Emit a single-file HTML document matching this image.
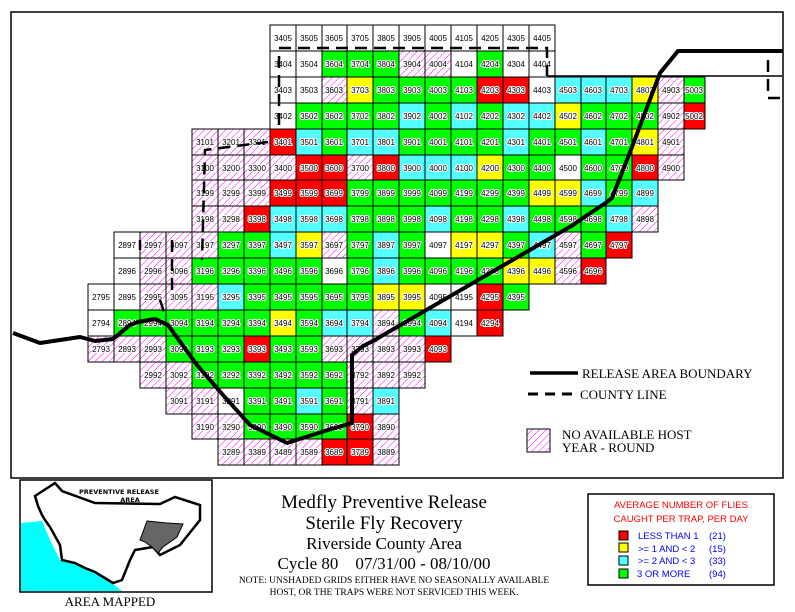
<!DOCTYPE html>
<html><head><meta charset="utf-8"><style>
body{margin:0;background:#fff;width:795px;height:612px;overflow:hidden}
svg{display:block}
.G{fill:#00ff00}.C{fill:#55ffff}.Y{fill:#ffff00}.R{fill:#ff0000}.W{fill:#fff}.H{fill:url(#hatch)}
g.r rect{stroke:#000;stroke-width:1}
g.r text{font-family:"Liberation Sans",sans-serif;font-size:8px;text-anchor:middle;fill:#000;stroke:#fff;stroke-width:2px;paint-order:stroke}
.t{font-family:"Liberation Serif",serif;text-anchor:middle;fill:#000}
</style></head><body>
<svg width="795" height="612" viewBox="0 0 795 612" xmlns="http://www.w3.org/2000/svg">
<defs>
<pattern id="hatch" width="5" height="5" patternUnits="userSpaceOnUse" patternTransform="rotate(45)">
<rect width="5" height="5" fill="#fff"/><line x1="0" y1="0" x2="0" y2="5" stroke="#ff00ff" stroke-width="1"/>
</pattern>
</defs>
<rect x="11" y="12" width="772" height="466" fill="none" stroke="#000" stroke-width="1.5"/>

<g class="r" transform="translate(0,25)">
<rect class="W" x="270" width="26" height="26"/><text x="283" y="16">3405</text>
<rect class="W" x="296" width="26" height="26"/><text x="309" y="16">3505</text>
<rect class="W" x="322" width="25" height="26"/><text x="334" y="16">3605</text>
<rect class="W" x="347" width="26" height="26"/><text x="360" y="16">3705</text>
<rect class="W" x="373" width="26" height="26"/><text x="386" y="16">3805</text>
<rect class="W" x="399" width="26" height="26"/><text x="412" y="16">3905</text>
<rect class="W" x="425" width="26" height="26"/><text x="438" y="16">4005</text>
<rect class="W" x="451" width="26" height="26"/><text x="464" y="16">4105</text>
<rect class="W" x="477" width="26" height="26"/><text x="490" y="16">4205</text>
<rect class="W" x="503" width="26" height="26"/><text x="516" y="16">4305</text>
<rect class="W" x="529" width="26" height="26"/><text x="542" y="16">4405</text>
</g>
<g class="r" transform="translate(0,51)">
<rect class="W" x="270" width="26" height="26"/><text x="283" y="16">3404</text>
<rect class="W" x="296" width="26" height="26"/><text x="309" y="16">3504</text>
<rect class="G" x="322" width="25" height="26"/><text x="334" y="16">3604</text>
<rect class="G" x="347" width="26" height="26"/><text x="360" y="16">3704</text>
<rect class="G" x="373" width="26" height="26"/><text x="386" y="16">3804</text>
<rect class="H" x="399" width="26" height="26"/><text x="412" y="16">3904</text>
<rect class="H" x="425" width="26" height="26"/><text x="438" y="16">4004</text>
<rect class="W" x="451" width="26" height="26"/><text x="464" y="16">4104</text>
<rect class="G" x="477" width="26" height="26"/><text x="490" y="16">4204</text>
<rect class="W" x="503" width="26" height="26"/><text x="516" y="16">4304</text>
<rect class="W" x="529" width="26" height="26"/><text x="542" y="16">4404</text>
</g>
<g class="r" transform="translate(0,77)">
<rect class="W" x="270" width="26" height="26"/><text x="283" y="16">3403</text>
<rect class="W" x="296" width="26" height="26"/><text x="309" y="16">3503</text>
<rect class="H" x="322" width="25" height="26"/><text x="334" y="16">3603</text>
<rect class="Y" x="347" width="26" height="26"/><text x="360" y="16">3703</text>
<rect class="G" x="373" width="26" height="26"/><text x="386" y="16">3803</text>
<rect class="G" x="399" width="26" height="26"/><text x="412" y="16">3903</text>
<rect class="G" x="425" width="26" height="26"/><text x="438" y="16">4003</text>
<rect class="G" x="451" width="26" height="26"/><text x="464" y="16">4103</text>
<rect class="R" x="477" width="26" height="26"/><text x="490" y="16">4203</text>
<rect class="R" x="503" width="26" height="26"/><text x="516" y="16">4303</text>
<rect class="W" x="529" width="26" height="26"/><text x="542" y="16">4403</text>
<rect class="C" x="555" width="26" height="26"/><text x="568" y="16">4503</text>
<rect class="C" x="581" width="25" height="26"/><text x="593" y="16">4603</text>
<rect class="C" x="606" width="26" height="26"/><text x="619" y="16">4703</text>
<rect class="Y" x="632" width="26" height="26"/><text x="645" y="16">4803</text>
<rect class="H" x="658" width="26" height="26"/><text x="671" y="16">4903</text>
<rect class="G" x="684" width="21" height="26"/><text x="694" y="16">5003</text>
</g>
<g class="r" transform="translate(0,103)">
<rect class="W" x="270" width="26" height="26"/><text x="283" y="16">3402</text>
<rect class="G" x="296" width="26" height="26"/><text x="309" y="16">3502</text>
<rect class="G" x="322" width="25" height="26"/><text x="334" y="16">3602</text>
<rect class="G" x="347" width="26" height="26"/><text x="360" y="16">3702</text>
<rect class="G" x="373" width="26" height="26"/><text x="386" y="16">3802</text>
<rect class="C" x="399" width="26" height="26"/><text x="412" y="16">3902</text>
<rect class="G" x="425" width="26" height="26"/><text x="438" y="16">4002</text>
<rect class="C" x="451" width="26" height="26"/><text x="464" y="16">4102</text>
<rect class="G" x="477" width="26" height="26"/><text x="490" y="16">4202</text>
<rect class="C" x="503" width="26" height="26"/><text x="516" y="16">4302</text>
<rect class="C" x="529" width="26" height="26"/><text x="542" y="16">4402</text>
<rect class="Y" x="555" width="26" height="26"/><text x="568" y="16">4502</text>
<rect class="G" x="581" width="25" height="26"/><text x="593" y="16">4602</text>
<rect class="G" x="606" width="26" height="26"/><text x="619" y="16">4702</text>
<rect class="G" x="632" width="26" height="26"/><text x="645" y="16">4802</text>
<rect class="H" x="658" width="26" height="26"/><text x="671" y="16">4902</text>
<rect class="R" x="684" width="21" height="26"/><text x="694" y="16">5002</text>
</g>
<g class="r" transform="translate(0,129)">
<rect class="H" x="192" width="26" height="26"/><text x="205" y="16">3101</text>
<rect class="H" x="218" width="26" height="26"/><text x="231" y="16">3201</text>
<rect class="H" x="244" width="26" height="26"/><text x="257" y="16">3301</text>
<rect class="R" x="270" width="26" height="26"/><text x="283" y="16">3401</text>
<rect class="C" x="296" width="26" height="26"/><text x="309" y="16">3501</text>
<rect class="G" x="322" width="25" height="26"/><text x="334" y="16">3601</text>
<rect class="C" x="347" width="26" height="26"/><text x="360" y="16">3701</text>
<rect class="C" x="373" width="26" height="26"/><text x="386" y="16">3801</text>
<rect class="G" x="399" width="26" height="26"/><text x="412" y="16">3901</text>
<rect class="G" x="425" width="26" height="26"/><text x="438" y="16">4001</text>
<rect class="G" x="451" width="26" height="26"/><text x="464" y="16">4101</text>
<rect class="G" x="477" width="26" height="26"/><text x="490" y="16">4201</text>
<rect class="C" x="503" width="26" height="26"/><text x="516" y="16">4301</text>
<rect class="G" x="529" width="26" height="26"/><text x="542" y="16">4401</text>
<rect class="G" x="555" width="26" height="26"/><text x="568" y="16">4501</text>
<rect class="C" x="581" width="25" height="26"/><text x="593" y="16">4601</text>
<rect class="G" x="606" width="26" height="26"/><text x="619" y="16">4701</text>
<rect class="Y" x="632" width="26" height="26"/><text x="645" y="16">4801</text>
<rect class="H" x="658" width="26" height="26"/><text x="671" y="16">4901</text>
</g>
<g class="r" transform="translate(0,155)">
<rect class="H" x="192" width="26" height="25"/><text x="205" y="16">3100</text>
<rect class="H" x="218" width="26" height="25"/><text x="231" y="16">3200</text>
<rect class="H" x="244" width="26" height="25"/><text x="257" y="16">3300</text>
<rect class="H" x="270" width="26" height="25"/><text x="283" y="16">3400</text>
<rect class="R" x="296" width="26" height="25"/><text x="309" y="16">3500</text>
<rect class="R" x="322" width="25" height="25"/><text x="334" y="16">3600</text>
<rect class="H" x="347" width="26" height="25"/><text x="360" y="16">3700</text>
<rect class="R" x="373" width="26" height="25"/><text x="386" y="16">3800</text>
<rect class="C" x="399" width="26" height="25"/><text x="412" y="16">3900</text>
<rect class="C" x="425" width="26" height="25"/><text x="438" y="16">4000</text>
<rect class="C" x="451" width="26" height="25"/><text x="464" y="16">4100</text>
<rect class="Y" x="477" width="26" height="25"/><text x="490" y="16">4200</text>
<rect class="G" x="503" width="26" height="25"/><text x="516" y="16">4300</text>
<rect class="G" x="529" width="26" height="25"/><text x="542" y="16">4400</text>
<rect class="W" x="555" width="26" height="25"/><text x="568" y="16">4500</text>
<rect class="G" x="581" width="25" height="25"/><text x="593" y="16">4600</text>
<rect class="G" x="606" width="26" height="25"/><text x="619" y="16">4700</text>
<rect class="R" x="632" width="26" height="25"/><text x="645" y="16">4800</text>
<rect class="H" x="658" width="26" height="25"/><text x="671" y="16">4900</text>
</g>
<g class="r" transform="translate(0,180)">
<rect class="H" x="192" width="26" height="26"/><text x="205" y="16">3199</text>
<rect class="H" x="218" width="26" height="26"/><text x="231" y="16">3299</text>
<rect class="H" x="244" width="26" height="26"/><text x="257" y="16">3399</text>
<rect class="R" x="270" width="26" height="26"/><text x="283" y="16">3499</text>
<rect class="R" x="296" width="26" height="26"/><text x="309" y="16">3599</text>
<rect class="R" x="322" width="25" height="26"/><text x="334" y="16">3699</text>
<rect class="G" x="347" width="26" height="26"/><text x="360" y="16">3799</text>
<rect class="G" x="373" width="26" height="26"/><text x="386" y="16">3899</text>
<rect class="G" x="399" width="26" height="26"/><text x="412" y="16">3999</text>
<rect class="G" x="425" width="26" height="26"/><text x="438" y="16">4099</text>
<rect class="G" x="451" width="26" height="26"/><text x="464" y="16">4199</text>
<rect class="G" x="477" width="26" height="26"/><text x="490" y="16">4299</text>
<rect class="G" x="503" width="26" height="26"/><text x="516" y="16">4399</text>
<rect class="Y" x="529" width="26" height="26"/><text x="542" y="16">4499</text>
<rect class="Y" x="555" width="26" height="26"/><text x="568" y="16">4599</text>
<rect class="C" x="581" width="25" height="26"/><text x="593" y="16">4699</text>
<rect class="G" x="606" width="26" height="26"/><text x="619" y="16">4799</text>
<rect class="C" x="632" width="26" height="26"/><text x="645" y="16">4899</text>
</g>
<g class="r" transform="translate(0,206)">
<rect class="H" x="192" width="26" height="26"/><text x="205" y="16">3198</text>
<rect class="H" x="218" width="26" height="26"/><text x="231" y="16">3298</text>
<rect class="R" x="244" width="26" height="26"/><text x="257" y="16">3398</text>
<rect class="C" x="270" width="26" height="26"/><text x="283" y="16">3498</text>
<rect class="C" x="296" width="26" height="26"/><text x="309" y="16">3598</text>
<rect class="C" x="322" width="25" height="26"/><text x="334" y="16">3698</text>
<rect class="G" x="347" width="26" height="26"/><text x="360" y="16">3798</text>
<rect class="G" x="373" width="26" height="26"/><text x="386" y="16">3898</text>
<rect class="G" x="399" width="26" height="26"/><text x="412" y="16">3998</text>
<rect class="C" x="425" width="26" height="26"/><text x="438" y="16">4098</text>
<rect class="G" x="451" width="26" height="26"/><text x="464" y="16">4198</text>
<rect class="G" x="477" width="26" height="26"/><text x="490" y="16">4298</text>
<rect class="C" x="503" width="26" height="26"/><text x="516" y="16">4398</text>
<rect class="G" x="529" width="26" height="26"/><text x="542" y="16">4498</text>
<rect class="G" x="555" width="26" height="26"/><text x="568" y="16">4598</text>
<rect class="G" x="581" width="25" height="26"/><text x="593" y="16">4698</text>
<rect class="C" x="606" width="26" height="26"/><text x="619" y="16">4798</text>
<rect class="H" x="632" width="26" height="26"/><text x="645" y="16">4898</text>
</g>
<g class="r" transform="translate(0,232)">
<rect class="W" x="114" width="26" height="26"/><text x="127" y="16">2897</text>
<rect class="H" x="140" width="26" height="26"/><text x="153" y="16">2997</text>
<rect class="H" x="166" width="26" height="26"/><text x="179" y="16">3097</text>
<rect class="H" x="192" width="26" height="26"/><text x="205" y="16">3197</text>
<rect class="G" x="218" width="26" height="26"/><text x="231" y="16">3297</text>
<rect class="G" x="244" width="26" height="26"/><text x="257" y="16">3397</text>
<rect class="C" x="270" width="26" height="26"/><text x="283" y="16">3497</text>
<rect class="Y" x="296" width="26" height="26"/><text x="309" y="16">3597</text>
<rect class="H" x="322" width="25" height="26"/><text x="334" y="16">3697</text>
<rect class="G" x="347" width="26" height="26"/><text x="360" y="16">3797</text>
<rect class="C" x="373" width="26" height="26"/><text x="386" y="16">3897</text>
<rect class="G" x="399" width="26" height="26"/><text x="412" y="16">3997</text>
<rect class="W" x="425" width="26" height="26"/><text x="438" y="16">4097</text>
<rect class="Y" x="451" width="26" height="26"/><text x="464" y="16">4197</text>
<rect class="Y" x="477" width="26" height="26"/><text x="490" y="16">4297</text>
<rect class="G" x="503" width="26" height="26"/><text x="516" y="16">4397</text>
<rect class="C" x="529" width="26" height="26"/><text x="542" y="16">4497</text>
<rect class="H" x="555" width="26" height="26"/><text x="568" y="16">4597</text>
<rect class="G" x="581" width="25" height="26"/><text x="593" y="16">4697</text>
<rect class="R" x="606" width="26" height="26"/><text x="619" y="16">4797</text>
</g>
<g class="r" transform="translate(0,258)">
<rect class="W" x="114" width="26" height="26"/><text x="127" y="16">2896</text>
<rect class="H" x="140" width="26" height="26"/><text x="153" y="16">2996</text>
<rect class="H" x="166" width="26" height="26"/><text x="179" y="16">3096</text>
<rect class="G" x="192" width="26" height="26"/><text x="205" y="16">3196</text>
<rect class="G" x="218" width="26" height="26"/><text x="231" y="16">3296</text>
<rect class="G" x="244" width="26" height="26"/><text x="257" y="16">3396</text>
<rect class="G" x="270" width="26" height="26"/><text x="283" y="16">3496</text>
<rect class="G" x="296" width="26" height="26"/><text x="309" y="16">3596</text>
<rect class="W" x="322" width="25" height="26"/><text x="334" y="16">3696</text>
<rect class="G" x="347" width="26" height="26"/><text x="360" y="16">3796</text>
<rect class="C" x="373" width="26" height="26"/><text x="386" y="16">3896</text>
<rect class="G" x="399" width="26" height="26"/><text x="412" y="16">3996</text>
<rect class="G" x="425" width="26" height="26"/><text x="438" y="16">4096</text>
<rect class="G" x="451" width="26" height="26"/><text x="464" y="16">4196</text>
<rect class="G" x="477" width="26" height="26"/><text x="490" y="16">4296</text>
<rect class="Y" x="503" width="26" height="26"/><text x="516" y="16">4396</text>
<rect class="Y" x="529" width="26" height="26"/><text x="542" y="16">4496</text>
<rect class="H" x="555" width="26" height="26"/><text x="568" y="16">4596</text>
<rect class="R" x="581" width="25" height="26"/><text x="593" y="16">4696</text>
</g>
<g class="r" transform="translate(0,284)">
<rect class="W" x="88" width="26" height="26"/><text x="101" y="16">2795</text>
<rect class="W" x="114" width="26" height="26"/><text x="127" y="16">2895</text>
<rect class="H" x="140" width="26" height="26"/><text x="153" y="16">2995</text>
<rect class="H" x="166" width="26" height="26"/><text x="179" y="16">3095</text>
<rect class="H" x="192" width="26" height="26"/><text x="205" y="16">3195</text>
<rect class="C" x="218" width="26" height="26"/><text x="231" y="16">3295</text>
<rect class="G" x="244" width="26" height="26"/><text x="257" y="16">3395</text>
<rect class="G" x="270" width="26" height="26"/><text x="283" y="16">3495</text>
<rect class="G" x="296" width="26" height="26"/><text x="309" y="16">3595</text>
<rect class="G" x="322" width="25" height="26"/><text x="334" y="16">3695</text>
<rect class="G" x="347" width="26" height="26"/><text x="360" y="16">3795</text>
<rect class="Y" x="373" width="26" height="26"/><text x="386" y="16">3895</text>
<rect class="Y" x="399" width="26" height="26"/><text x="412" y="16">3995</text>
<rect class="W" x="425" width="26" height="26"/><text x="438" y="16">4095</text>
<rect class="W" x="451" width="26" height="26"/><text x="464" y="16">4195</text>
<rect class="R" x="477" width="26" height="26"/><text x="490" y="16">4295</text>
<rect class="G" x="503" width="26" height="26"/><text x="516" y="16">4395</text>
</g>
<g class="r" transform="translate(0,310)">
<rect class="W" x="88" width="26" height="26"/><text x="101" y="16">2794</text>
<rect class="G" x="114" width="26" height="26"/><text x="127" y="16">2894</text>
<rect class="G" x="140" width="26" height="26"/><text x="153" y="16">2994</text>
<rect class="G" x="166" width="26" height="26"/><text x="179" y="16">3094</text>
<rect class="G" x="192" width="26" height="26"/><text x="205" y="16">3194</text>
<rect class="G" x="218" width="26" height="26"/><text x="231" y="16">3294</text>
<rect class="G" x="244" width="26" height="26"/><text x="257" y="16">3394</text>
<rect class="Y" x="270" width="26" height="26"/><text x="283" y="16">3494</text>
<rect class="G" x="296" width="26" height="26"/><text x="309" y="16">3594</text>
<rect class="C" x="322" width="25" height="26"/><text x="334" y="16">3694</text>
<rect class="C" x="347" width="26" height="26"/><text x="360" y="16">3794</text>
<rect class="H" x="373" width="26" height="26"/><text x="386" y="16">3894</text>
<rect class="G" x="399" width="26" height="26"/><text x="412" y="16">3994</text>
<rect class="C" x="425" width="26" height="26"/><text x="438" y="16">4094</text>
<rect class="W" x="451" width="26" height="26"/><text x="464" y="16">4194</text>
<rect class="R" x="477" width="26" height="26"/><text x="490" y="16">4294</text>
</g>
<g class="r" transform="translate(0,336)">
<rect class="H" x="88" width="26" height="26"/><text x="101" y="16">2793</text>
<rect class="H" x="114" width="26" height="26"/><text x="127" y="16">2893</text>
<rect class="H" x="140" width="26" height="26"/><text x="153" y="16">2993</text>
<rect class="G" x="166" width="26" height="26"/><text x="179" y="16">3093</text>
<rect class="G" x="192" width="26" height="26"/><text x="205" y="16">3193</text>
<rect class="G" x="218" width="26" height="26"/><text x="231" y="16">3293</text>
<rect class="R" x="244" width="26" height="26"/><text x="257" y="16">3393</text>
<rect class="G" x="270" width="26" height="26"/><text x="283" y="16">3493</text>
<rect class="G" x="296" width="26" height="26"/><text x="309" y="16">3593</text>
<rect class="H" x="322" width="25" height="26"/><text x="334" y="16">3693</text>
<rect class="H" x="347" width="26" height="26"/><text x="360" y="16">3793</text>
<rect class="H" x="373" width="26" height="26"/><text x="386" y="16">3893</text>
<rect class="H" x="399" width="26" height="26"/><text x="412" y="16">3993</text>
<rect class="R" x="425" width="26" height="26"/><text x="438" y="16">4093</text>
</g>
<g class="r" transform="translate(0,362)">
<rect class="H" x="140" width="26" height="26"/><text x="153" y="16">2992</text>
<rect class="H" x="166" width="26" height="26"/><text x="179" y="16">3092</text>
<rect class="G" x="192" width="26" height="26"/><text x="205" y="16">3192</text>
<rect class="G" x="218" width="26" height="26"/><text x="231" y="16">3292</text>
<rect class="G" x="244" width="26" height="26"/><text x="257" y="16">3392</text>
<rect class="G" x="270" width="26" height="26"/><text x="283" y="16">3492</text>
<rect class="G" x="296" width="26" height="26"/><text x="309" y="16">3592</text>
<rect class="G" x="322" width="25" height="26"/><text x="334" y="16">3692</text>
<rect class="H" x="347" width="26" height="26"/><text x="360" y="16">3792</text>
<rect class="H" x="373" width="26" height="26"/><text x="386" y="16">3892</text>
<rect class="H" x="399" width="26" height="26"/><text x="412" y="16">3992</text>
</g>
<g class="r" transform="translate(0,388)">
<rect class="H" x="166" width="26" height="26"/><text x="179" y="16">3091</text>
<rect class="H" x="192" width="26" height="26"/><text x="205" y="16">3191</text>
<rect class="W" x="218" width="26" height="26"/><text x="231" y="16">3291</text>
<rect class="G" x="244" width="26" height="26"/><text x="257" y="16">3391</text>
<rect class="G" x="270" width="26" height="26"/><text x="283" y="16">3491</text>
<rect class="C" x="296" width="26" height="26"/><text x="309" y="16">3591</text>
<rect class="G" x="322" width="25" height="26"/><text x="334" y="16">3691</text>
<rect class="H" x="347" width="26" height="26"/><text x="360" y="16">3791</text>
<rect class="C" x="373" width="26" height="26"/><text x="386" y="16">3891</text>
</g>
<g class="r" transform="translate(0,414)">
<rect class="H" x="192" width="26" height="25"/><text x="205" y="16">3190</text>
<rect class="H" x="218" width="26" height="25"/><text x="231" y="16">3290</text>
<rect class="G" x="244" width="26" height="25"/><text x="257" y="16">3390</text>
<rect class="G" x="270" width="26" height="25"/><text x="283" y="16">3490</text>
<rect class="G" x="296" width="26" height="25"/><text x="309" y="16">3590</text>
<rect class="G" x="322" width="25" height="25"/><text x="334" y="16">3690</text>
<rect class="R" x="347" width="26" height="25"/><text x="360" y="16">3790</text>
<rect class="H" x="373" width="26" height="25"/><text x="386" y="16">3890</text>
</g>
<g class="r" transform="translate(0,439)">
<rect class="H" x="218" width="26" height="26"/><text x="231" y="16">3289</text>
<rect class="H" x="244" width="26" height="26"/><text x="257" y="16">3389</text>
<rect class="H" x="270" width="26" height="26"/><text x="283" y="16">3489</text>
<rect class="H" x="296" width="26" height="26"/><text x="309" y="16">3589</text>
<rect class="R" x="322" width="25" height="26"/><text x="334" y="16">3689</text>
<rect class="R" x="347" width="26" height="26"/><text x="360" y="16">3789</text>
<rect class="H" x="373" width="26" height="26"/><text x="386" y="16">3889</text>
</g>

<g fill="none" stroke="#000" stroke-width="2.5" stroke-dasharray="12 7">
<path d="M279,48 L547,48 L547,76"/>
<path d="M279,56 L279,130 M268,142 L205,150 L202,260"/>
<path d="M140,240 L140,250 M172,240 L172,290 M160,300 L165,315"/>
<path d="M768,60 L768,98 L780,98"/>
</g>
<path d="M547,76 L782,76" stroke="#000" stroke-width="1.5"/>
<path d="M13,333 L40,343 L80,337 L95,341 L113,339 L130,325 L138,322 L155,319 L168,325 L197,365 L223,395 L250,425 L287,443 L328,430 L352,423 L352,355 L363,346 L373,341 L573,225 L583,218 L607,202 L612,198 L632,147 L660,73 L678,51 L783,51" fill="none" stroke="#000" stroke-width="4" stroke-linejoin="round"/>

<line x1="530" y1="373" x2="578" y2="373" stroke="#000" stroke-width="3.5"/>
<text x="582" y="378" font-family="Liberation Serif,serif" font-size="13">RELEASE AREA BOUNDARY</text>
<line x1="528" y1="394" x2="578" y2="394" stroke="#000" stroke-width="3" stroke-dasharray="10 7"/>
<text x="580" y="399" font-family="Liberation Serif,serif" font-size="13">COUNTY LINE</text>
<rect x="527" y="429" width="23" height="23" fill="url(#hatch)" stroke="#000"/>
<text x="562" y="439" font-family="Liberation Serif,serif" font-size="13">NO AVAILABLE HOST</text>
<text x="562" y="452" font-family="Liberation Serif,serif" font-size="13">YEAR - ROUND</text>

<rect x="20" y="480" width="192" height="112" fill="#fff" stroke="#000" stroke-width="1.5"/>
<path d="M21,523 L42,521 L50,540 L60,560 L75,563 L90,565 L108,580 L122,591 L21,591 Z" fill="#00ffff"/>
<path d="M35,496 L55,483 L62,491 L95,503 L160,504 L175,497 L200,505 L200,520 L180,545 L160,555 L153,547 L135,550 L130,560 L122,580 L113,583 L95,572 L85,568 L75,563 L62,560 L60,545 L50,527 L45,520 L42,515 L38,506 Z" fill="#fff" stroke="#000" stroke-width="2.5"/>
<path d="M147,521 L167,523 L183,524 L177,537 L163,547 L158,553 L152,547 L145,542 L140,540 Z" fill="#666" stroke="#000"/>
<text x="119" y="494" font-family="DejaVu Sans,sans-serif" font-size="6.5" text-anchor="middle" font-weight="bold">PREVENTIVE RELEASE</text>
<text x="130" y="502" font-family="DejaVu Sans,sans-serif" font-size="6.5" text-anchor="middle" font-weight="bold">AREA</text>
<text x="110" y="606" class="t" font-size="13">AREA MAPPED</text>

<text x="384" y="508" class="t" font-size="19">Medfly Preventive Release</text>
<text x="384" y="529" class="t" font-size="19">Sterile Fly Recovery</text>
<text x="384" y="549" class="t" font-size="17">Riverside County Area</text>
<text x="384" y="569" class="t" font-size="17" xml:space="preserve">Cycle 80    07/31/00 - 08/10/00</text>
<text x="394" y="583" class="t" font-size="9.5">NOTE: UNSHADED GRIDS EITHER HAVE NO SEASONALLY AVAILABLE</text>
<text x="394" y="595" class="t" font-size="9.5">HOST, OR THE TRAPS WERE NOT SERVICED THIS WEEK.</text>

<rect x="588" y="494" width="186" height="91" fill="#fff" stroke="#000" stroke-width="1.5"/>
<g font-family="Liberation Sans,sans-serif" font-size="9.5">
<text x="681" y="508" text-anchor="middle" fill="#ff0000">AVERAGE NUMBER OF FLIES</text>
<text x="681" y="522" text-anchor="middle" fill="#ff0000">CAUGHT PER TRAP, PER DAY</text>
<rect x="619" y="531" width="9" height="9" fill="#ff0000" stroke="#000"/>
<rect x="619" y="543" width="9" height="9" fill="#ffff00" stroke="#000"/>
<rect x="619" y="556" width="9" height="9" fill="#55ffff" stroke="#000"/>
<rect x="619" y="569" width="9" height="9" fill="#00ff00" stroke="#000"/>
<g fill="#0000ff">
<text x="638" y="539">LESS THAN 1</text><text x="709" y="539">(21)</text>
<text x="638" y="552">&gt;= 1 AND &lt; 2</text><text x="709" y="552">(15)</text>
<text x="638" y="564">&gt;= 2 AND &lt; 3</text><text x="709" y="564">(33)</text>
<text x="637" y="577">3 OR MORE</text><text x="709" y="577">(94)</text>
</g>
</g>
</svg>
</body></html>
